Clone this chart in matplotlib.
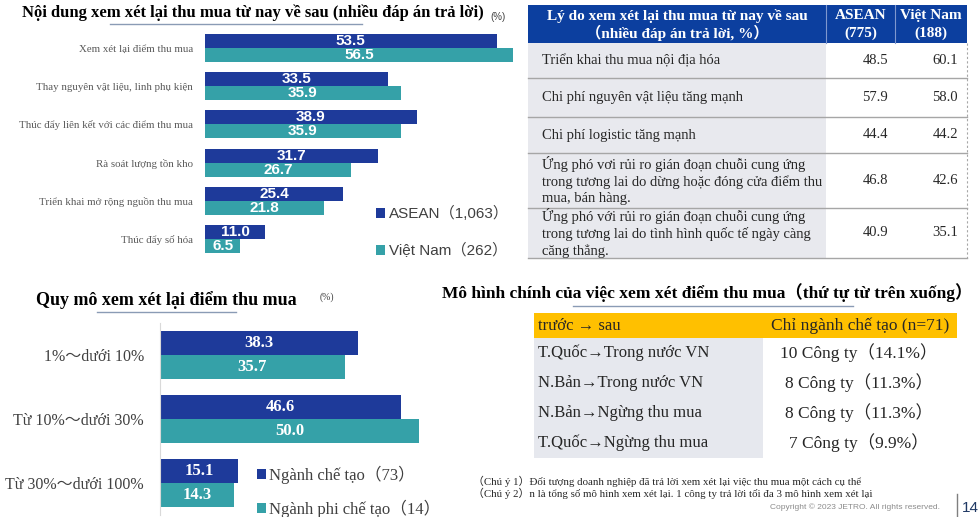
import numpy as np
import matplotlib
matplotlib.use('Agg')
import matplotlib.pyplot as plt
from matplotlib.patches import Rectangle

# --- data ---
review_items = ["Xem xét lại điểm thu mua", "Thay nguyên vật liệu, linh phụ kiện",
                "Thúc đẩy liên kết với các điểm thu mua", "Rà soát lượng tồn kho",
                "Triển khai mở rộng nguồn thu mua", "Thúc đẩy số hóa"]
review_asean = [53.5, 33.5, 38.9, 31.7, 25.4, 11.0]
review_vn = [56.5, 35.9, 35.9, 26.7, 21.8, 6.5]

scale_items = ["1%～dưới 10%", "Từ 10%～dưới 30%", "Từ 30%～dưới 100%"]
scale_manu = [38.3, 46.6, 15.1]
scale_nonmanu = [35.7, 50.0, 14.3]

reasons = ["Triển khai thu mua nội địa hóa",
           "Chi phí nguyên vật liệu tăng mạnh",
           "Chi phí logistic tăng mạnh",
           "Ứng phó vơi rủi ro gián đoạn chuỗi cung ứng\ntrong tương lai do dừng hoặc đóng cửa điểm thu\nmua, bán hàng.",
           "Ứng phó với rủi ro gián đoạn chuỗi cung ứng\ntrong tương lai do tình hình quốc tế ngày càng\ncăng thẳng."]
reason_asean = [48.5, 57.9, 44.4, 46.8, 40.9]
reason_vn = [60.1, 58.0, 44.2, 42.6, 35.1]

patterns = ["T.Quốc→Trong nước VN", "N.Bản→Trong nước VN",
            "N.Bản→Ngừng thu mua", "T.Quốc→Ngừng thu mua"]
pattern_count = [10, 8, 8, 7]
pattern_pct = [14.1, 11.3, 11.3, 9.9]

# --- style ---
W, H = 979, 517
SERIF = ['Liberation Serif', 'DejaVu Serif', 'Noto Sans CJK JP']
SANS = ['Liberation Sans', 'Noto Sans CJK JP']
C_BLUE = '#1e3a9a'
C_TEAL = '#35a1a8'
C_HEAD = '#0c3f9f'
C_GRAYCELL = '#e8e9ee'
C_TEXT = '#262626'


def rect(l, t, r, b):
    return [l / W, 1 - b / H, (r - l) / W, (b - t) / H]


fig = plt.figure(figsize=(W / 100, H / 100), dpi=100)
bg = fig.add_axes([0, 0, 1, 1])
bg.set_xlim(0, W)
bg.set_ylim(H, 0)
bg.axis('off')

# ---------------- chart 1 ----------------
bg.text(22, 13, "Nội dung xem xét lại thu mua từ nay về sau (nhiều đáp án trả lời)",
        family=SERIF, fontweight='bold', fontsize=12, va='center', color='black')
bg.text(490, 17, "(%)", family=SANS, fontsize=7, va='center', color='#404040')
bg.plot([110, 362], [24, 24], color='#8a9bb5', lw=1)

ax1 = fig.add_axes(rect(205, 29, 532, 258))
y = np.arange(len(review_items))
h = 0.366
b1 = ax1.barh(y - h / 2, review_asean, height=h, color=C_BLUE, label='ASEAN（1,063）')
b2 = ax1.barh(y + h / 2, review_vn, height=h, color=C_TEAL, label='Việt Nam（262）')
ax1.set_xlim(0, 60)
ax1.set_ylim(5.5, -0.5)
ax1.set_yticks(y, review_items, fontfamily=SERIF, fontsize=7.8, color='#595959')
ax1.tick_params(left=False, bottom=False, labelbottom=False, pad=5)
for s in ax1.spines.values():
    s.set_visible(False)
ax1.patch.set_alpha(0)
for bars in (b1, b2):
    ax1.bar_label(bars, fmt='%.1f', label_type='center', color='white',
                  fontweight='bold', fontsize=11, family=SANS)
ax1.legend(loc='upper left', bbox_to_anchor=(376 / W, 1 - 206 / H), bbox_transform=fig.transFigure,
           frameon=False, prop={'family': SANS, 'size': 11}, handlelength=0.6, handleheight=0.6,
           handletextpad=0.25, labelspacing=1.45, borderpad=0, borderaxespad=0, labelcolor='#404040')

# ---------------- chart 2 ----------------
bg.text(36, 300, "Quy mô xem xét lại điểm thu mua", family=SERIF, fontweight='bold',
        fontsize=13, va='center', color='black')
bg.text(320, 297, "(%)", family=SERIF, fontsize=7, va='center', color='#404040')
bg.plot([97, 236], [312, 312], color='#8a9bb5', lw=1)

ax2 = fig.add_axes(rect(160, 323, 445, 515))
y2 = np.arange(len(scale_items))
h2 = 0.375
c1 = ax2.barh(y2 - h2 / 2, scale_manu, height=h2, color=C_BLUE, label='Ngành chế tạo（73）')
c2 = ax2.barh(y2 + h2 / 2, scale_nonmanu, height=h2, color=C_TEAL, label='Ngành phi chế tạo（14）')
ax2.set_xlim(0, 55)
ax2.set_ylim(2.5, -0.5)
ax2.set_yticks(y2, scale_items, fontfamily=SERIF, fontsize=11.5, color='#404040')
ax2.tick_params(left=False, bottom=False, labelbottom=False, pad=8)
for s in ax2.spines.values():
    s.set_visible(False)
ax2.spines['left'].set_visible(True)
ax2.spines['left'].set_color('#d9d9d9')
ax2.patch.set_alpha(0)
for bars in (c1, c2):
    ax2.bar_label(bars, fmt='%.1f', label_type='center', color='white',
                  fontweight='bold', fontsize=12, family=SERIF)
ax2.legend(loc='upper left', bbox_to_anchor=(257 / W, 1 - 466 / H), bbox_transform=fig.transFigure,
           frameon=False, prop={'family': SERIF, 'size': 12}, handlelength=0.55, handleheight=0.55,
           handletextpad=0.2, labelspacing=0.9, borderpad=0, borderaxespad=0, labelcolor='#404040')

# ---------------- table 1 ----------------
tl, tc1, tc2, tr = 528, 826, 895, 967
edges = [43, 78, 117, 153, 208, 258]
bg.add_patch(Rectangle((tl, 5), tr - tl, 38, facecolor=C_HEAD, edgecolor='none'))
for xv in (tc1, tc2):
    bg.plot([xv, xv], [5, 43], color='#7f98cf', lw=0.8)
bg.text((tl + tc1) / 2, 16, "Lý do xem xét lại thu mua từ nay về sau", family=SERIF,
        fontweight='bold', fontsize=11, color='white', ha='center', va='center')
bg.text((tl + tc1) / 2, 33, "（nhiều đáp án trả lời, %）", family=SERIF,
        fontweight='bold', fontsize=11, color='white', ha='center', va='center')
bg.text((tc1 + tc2) / 2, 24.5, "ASEAN\n(775)", family=SERIF, fontweight='bold', fontsize=11,
        color='white', ha='center', va='center', linespacing=1.35)
bg.text((tc2 + tr) / 2, 24.5, "Việt Nam\n(188)", family=SERIF, fontweight='bold', fontsize=11,
        color='white', ha='center', va='center', linespacing=1.35)
for i, txt in enumerate(reasons):
    top, bot = edges[i], edges[i + 1]
    mid = (top + bot) / 2
    bg.add_patch(Rectangle((tl, top), tc1 - tl, bot - top, facecolor=C_GRAYCELL, edgecolor='none'))
    bg.text(542, mid, txt, family=SERIF, fontsize=10.5, color=C_TEXT, va='center', linespacing=1.3)
    bg.text(888, mid, f"{reason_asean[i]:.1f}", family=SERIF, fontsize=10.5, color=C_TEXT,
            ha='right', va='center')
    bg.text(958, mid, f"{reason_vn[i]:.1f}", family=SERIF, fontsize=10.5, color=C_TEXT,
            ha='right', va='center')
    bg.plot([tl, tr], [bot, bot], color='#a6a6a6', lw=1)
bg.plot([tr, tr], [43, 258], color='#a6a6a6', lw=0.8, ls=(0, (2, 2)))

# ---------------- table 2 ----------------
bg.text(442, 293, "Mô hình chính của việc xem xét điểm thu mua（thứ tự từ trên xuống）",
        family=SERIF, fontweight='bold', fontsize=12.5, va='center', color='black')
bg.plot([573, 853], [306, 306], color='#8a9bb5', lw=1)
ml, mc, mr = 534, 763, 957
bg.add_patch(Rectangle((ml, 313), mr - ml, 25, facecolor='#ffc000', edgecolor='none'))
bg.text(538, 325.5, "trước → sau", family=SERIF, fontsize=12, color=C_TEXT, va='center')
bg.text((mc + mr) / 2, 325.5, "Chỉ ngành chế tạo (n=71)", family=SERIF, fontsize=12.5,
        color=C_TEXT, ha='center', va='center')
bg.add_patch(Rectangle((ml, 338), mc - ml, 120, facecolor='#e6e8ee', edgecolor='none'))
for i, p in enumerate(patterns):
    mid = 353 + 30 * i
    bg.text(538, mid, p, family=SERIF, fontsize=12, color=C_TEXT, va='center')
    bg.text(859, mid, f"{pattern_count[i]} Công ty（{pattern_pct[i]}%）", family=SERIF,
            fontsize=12.5, color=C_TEXT, ha='center', va='center')

bg.text(473, 481, "（Chú ý 1）Đối tượng doanh nghiệp đã trả lời xem xét lại việc thu mua một cách cụ thể",
        family=SERIF, fontsize=7.8, color=C_TEXT, va='center')
bg.text(473, 493, "（Chú ý 2）n là tổng số mô hình xem xét lại. 1 công ty trả lời tối đa 3 mô hình xem xét lại",
        family=SERIF, fontsize=7.8, color=C_TEXT, va='center')

bg.text(940, 507, "Copyright © 2023 JETRO. All rights reserved.", family=SANS, fontsize=6,
        color='#8c8c8c', ha='right', va='center')
bg.plot([957, 957], [494, 517], color='#7f7f7f', lw=1)
bg.text(962, 508, "14", family=SANS, fontsize=11, color='#1f3864', va='center')

fig.savefig('out.png', dpi=100)
